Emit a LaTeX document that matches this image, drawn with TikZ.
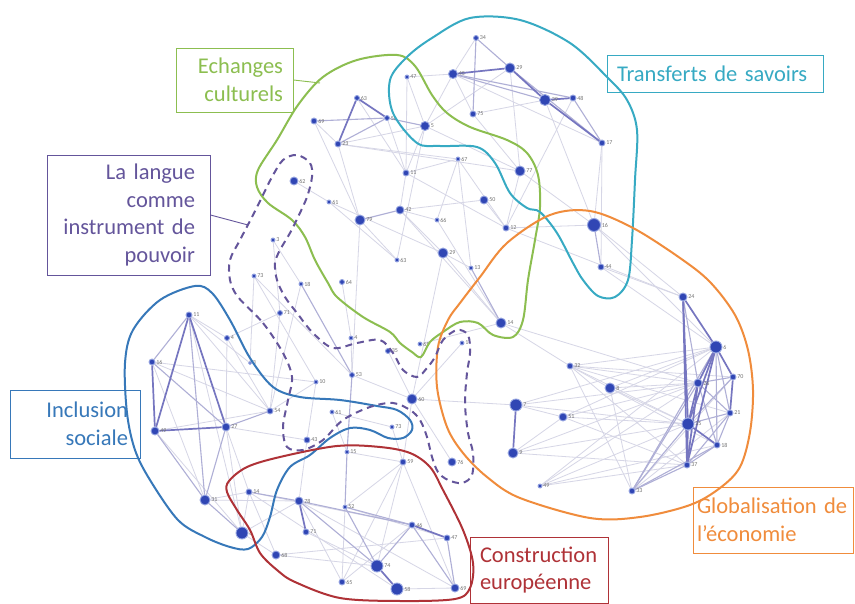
\documentclass[tikz,border=0pt]{standalone}
\usepackage{fontspec}
\setmainfont{Carlito}
\pgfdeclarelayer{back}
\pgfdeclarelayer{bg}
\pgfsetlayers{back,bg,main}
\definecolor{cgreen}{RGB}{140,190,80}
\definecolor{ccyan}{RGB}{55,170,195}
\definecolor{corange}{RGB}{240,140,60}
\definecolor{cblue}{RGB}{55,120,185}
\definecolor{cred}{RGB}{175,50,55}
\definecolor{cpurple}{RGB}{100,85,155}
\definecolor{cdot}{RGB}{48,70,180}
\definecolor{chalo}{RGB}{150,165,225}
\definecolor{eA}{RGB}{214,214,230}
\definecolor{eB}{RGB}{175,175,214}
\definecolor{eC}{RGB}{118,118,192}
\begin{document}
\begin{tikzpicture}[x=1pt,y=-1pt,
  dot/.style={circle,inner sep=0pt,fill=cdot,draw=chalo,line width=0.9pt},
  lbl/.style={anchor=west,inner sep=0.8pt,font=\fontsize{6}{6}\selectfont,text=black!55},
  ea/.style={draw=eA,line width=0.8pt},
  eb/.style={draw=eB,line width=1.1pt},
  ec/.style={draw=eC,line width=1.7pt},
  hull/.style={line width=2pt},
  lbox/.style={draw,line width=0.9pt,inner ysep=0pt,font=\fontsize{22.5}{27.5}\selectfont}]
\useasboundingbox (0,0) rectangle (855,604);
\begin{pgfonlayer}{back}
\fill[white] (0,0) rectangle (855,604);
\end{pgfonlayer}
% ---------- network nodes ----------
\foreach \n/\x/\y/\r/\l in {
 t34/476/38/2.5/34, t45/453/74/4.5/45, t29/510/68/5/29, t39/545/100/5.5/39,
 t48/573/98/3/48, t17/602/143/3/17, t75/473/114/3/75, g47/407/77/2/47,
 g5/425/126/4.5/5, g63/357/98/2.5/63, g56/387/118/2.5/56, g69/314/121/3/69,
 g23/338/144/3/23, g11/406/173/3/11, g67/458/159/2/67, g77/520/171/5/77,
 g50/484/200/4/50, g12/506/228/3/12, t16/594/225/6.5/16, t44/601/267/3/44,
 p62/294/181/4/62, g61/329/202/2/61, g79/360/220/5/79, g42/400/210/4/42,
 g66/437/220/2/66, g63b/397/260/2/63, g29/443/253/5/29, g13/471/268/2/13,
 p3/273/240/2/3, p73/254/276/2/73, p18/301/284/2/18, g64/342/282/2.5/64,
 p71/280/313/2.5/71, p4/351/338/2/4, p35/388/351/2.5/35, p65/420/344/2/65,
 p1/462/343/2/1, p53/352/375/2.5/53, p10/316/382/2/10, p60/412/399/5/60,
 b54/270/411/3/54, p61/332/412/2/61, p73b/392/427/2/73, p43/307/440/3/43,
 r15/347/452/2/15, g14/501/323/5/14,
 b11/189/315/3/11, b4/227/338/2.5/4, b16/152/362/3/16, b3/250/363/1.5/3,
 b49/155/431/4/49, b27/226/427/4/27, b31/205/500/5/31, b6/242/533/6/6,
 r14/249/492/3/14, r78/299/501/4/78, r71/306/532/3/71, r68/276/555/4/68,
 r59/403/462/3/59, p76/452/462/4/76, r52/345/507/2/52, r46/412/525/3/46,
 r47/447/538/3/47, r74/377/566/6/74, r65/342/582/3/65, r58/397/589/6/58,
 r69/455/588/4/69,
 o32/570/366/3/32, o8/610/388/5/8, o7/516/405/6/7, o51/563/417/4/51,
 o9/513/453/5/9, o49/540/486/2/49, o24/683/297/4/24, o6/716/347/6/6,
 o70/733/377/3/70, o26/698/383/4/26, o21/730/413/3/21, o35/688/424/6/35,
 o18/717/445/3/18, o37/687/465/3/37, o33/632/491/3/33}
 {\node[dot,minimum size={2*\r pt}] (\n) at (\x,\y) {};
  \node[lbl] (l\n) at (\n.east) {\l};}
% ---------- connectors ----------
\begin{pgfonlayer}{bg}
\foreach \a/\b in {
 t45/g5, g47/g11, g47/g5, t45/t75, g5/t29, t17/t16, t17/t44, t39/t16, t29/g77,
 t75/g77, t48/g12, t75/t39, t45/t17, t34/t45, g47/t45, g23/g5, g23/g67, g23/g77,
 g69/g23, g5/g11, g11/g67, g11/g42, g42/g29, g42/g66, g67/g66, g67/g12, g50/g12,
 g77/g12, g11/g12, g61/g29, g61/g63b, g42/g14, g29/g13, g5/g63b, g67/g13,
 p62/g61, g69/g79, g23/g79, g56/g11, g63/g11, g5/g77, g77/t16, g12/t16, g66/g14,
 p73/p53, p3/p18, p3/p71, p71/b54, p4/p53, p53/p60, p35/p60, p10/b54, p61/p73b,
 p43/b27, p1/p60, p65/g14, p60/o7, g29/p60, g79/p53, g64/p4, p18/b54, p73/p10,
 b11/b54, b49/b54, b16/b31, b27/b6, b49/b6, b11/b4, b4/b54, b16/p10, b11/b3,
 b3/p73, b4/p71, b31/r14, b6/r14, b11/b6, b4/b27, b16/b54, p43/r78,
 r14/r46, r59/r69, r59/r65, r52/r47, r58/r69, r68/r47, r71/r74, r14/r68, r52/r65,
 r59/r52, r78/r65, r14/r58, b6/r68, r15/r59, r68/r74, r65/r46, r78/r69, r59/r74,
 o33/o21, o33/o70, o32/o6, o32/o26, o32/o35, o32/o70, o32/o21, o8/o6, o8/o26,
 o8/o35, o8/o18, o51/o6, o51/o35, o51/o26, o7/o6, o7/o35, o9/o35, o9/o26,
 o49/o35, o49/o37, o49/o6, o49/o18, o32/o37, o32/o33, o8/o33, t16/o24, t44/o24,
 t16/o6, g14/o32, o51/o37, o9/o37, o7/o26, o49/o26, o32/o8, o7/o51, o9/o51,
 g12/o24, t44/o6, g14/o26, b27/r14, b31/r78, p61/r15, p43/p10, p60/r59,
 p60/p76, p73b/r59, g29/g14, g50/g42, g79/g63b, b6/r78}
 {\draw[ea] (\a) -- (\b);}
\foreach \a/\b in {
 t45/t39, t34/t29, t34/t75, t45/t48, t29/t17, t48/t17, t16/t44,
 g56/g23, g69/g56, g56/g5, g79/g42, g13/g14,
 p18/p53, p53/r15, r15/r52,
 b11/b16, b16/b27, b27/b54, b11/b31, b49/b31, b27/b31, b31/b6,
 r14/r78, r78/r46, r52/r46, r47/r69, r46/r69, r74/r46, r52/r74, r78/r74,
 o24/o26, o6/o21, o6/o18, o70/o26, o70/o35, o26/o21, o26/o18, o21/o35,
 o21/o18, o21/o37, o18/o37, o33/o35, o33/o37, o33/o26, o33/o6, o33/o18}
 {\draw[eb] (\a) -- (\b);}
\foreach \a/\b in {
 t45/t29, t29/t39, t39/t17, t39/t48, g63/g56, g63/g23,
 b11/b49, b11/b27, b16/b49, b49/b27,
 r78/r71, r46/r47, r74/r58, o7/o9,
 o24/o6, o24/o35, o24/o37, o6/o70, o6/o26, o6/o35, o6/o37, o70/o21,
 o26/o35, o26/o37, o35/o18, o35/o37}
 {\draw[ec] (\a) -- (\b);}
\end{pgfonlayer}
% ---------- cluster outlines ----------
\draw[hull,cgreen] plot[smooth cycle,tension=0.55] coordinates {
 (323,77) (357,60) (397,55) (415,66) (432,95) (447,113) (470,127) (507,140)
 (527,153) (538,175) (540,207) (535,240) (528,280) (523,320) (513,337)
 (493,335) (478,323) (460,322) (443,332) (430,342) (421,357) (412,352)
 (400,343) (390,332) (363,317) (337,297) (328,283) (315,260) (305,237)
 (292,220) (268,203) (257,187) (258,170) (277,140) (298,105)};
\draw[hull,ccyan] plot[smooth cycle,tension=0.55] coordinates {
 (432,38) (470,18) (520,20) (570,43) (607,77) (627,100) (637,130) (635,180)
 (632,240) (628,280) (615,297) (598,296) (583,280) (573,263) (557,233)
 (540,212) (527,208) (510,193) (495,163) (477,147) (440,146) (417,143)
 (393,113) (390,80) (407,57)};
\draw[hull,corange] plot[smooth cycle,tension=0.55] coordinates {
 (550,215) (590,211) (633,228) (680,258) (710,282) (735,315) (748,350)
 (753,390) (750,432) (740,467) (720,488) (690,505) (640,517) (590,518)
 (520,498) (487,477) (463,453) (447,427) (437,387) (438,347) (448,320)
 (460,303) (480,277) (507,243)};
\draw[hull,cblue] plot[smooth cycle,tension=0.55] coordinates {
 (195,286) (212,293) (230,320) (250,358) (273,387) (300,397) (340,400)
 (377,406) (397,410) (410,420) (412,430) (403,438) (388,438) (370,430)
 (350,428) (330,438) (310,455) (290,467) (277,490) (270,517) (262,537)
 (248,549) (230,547) (205,537) (178,520) (150,480) (135,450) (127,413)
 (125,363) (133,330) (160,300)};
\draw[hull,cred] plot[smooth cycle,tension=0.55] coordinates {
 (337,446) (380,447) (410,453) (430,467) (443,490) (463,530) (473,563)
 (470,588) (455,599) (400,601) (340,598) (295,582) (277,570) (260,553)
 (250,530) (237,510) (227,492) (229,481) (247,467) (280,457)};
\draw[hull,cpurple,dash pattern=on 7pt off 5pt] plot[smooth cycle,tension=0.55] coordinates {
 (238,297) (263,323) (283,353) (292,377) (288,400) (283,427) (287,447)
 (303,450) (323,440) (343,420) (370,407) (393,403) (410,410) (420,420)
 (427,437) (432,457) (438,472) (448,480) (462,483) (472,475) (473,453)
 (468,433) (465,403) (467,373) (470,353) (468,335) (457,330) (443,340)
 (435,357) (427,368) (417,377) (403,370) (393,353) (380,340) (357,343)
 (333,348) (313,333) (297,313) (285,297) (277,280) (275,263) (280,250)
 (290,233) (298,217) (307,197) (312,177) (310,163) (297,155) (283,160)
 (272,177) (262,197) (252,217) (240,240) (230,260) (230,280)};
% ---------- label boxes ----------
\node[lbox,cgreen,text=cgreen,minimum height=64pt,text width=97pt,inner xsep=10pt,align=right] (gbox) at (234.5,80) {Echanges\\culturels};
\node[lbox,cpurple,text=cpurple,minimum height=120pt,text width=133pt,inner xsep=15pt,align=right] (pbox) at (128.5,215) {La langue\\comme\\instrument de\\pouvoir};
\node[lbox,cblue,text=cblue,minimum height=68pt,text width=106pt,inner xsep=12pt,align=right] (bbox) at (75,424) {Inclusion\\sociale};
\node[lbox,ccyan,text=ccyan,minimum height=37pt,text width=196pt,inner xsep=10pt,align=left] (cbox) at (715,73.5) {Transferts de savoirs};
\node[lbox,corange,text=corange,minimum height=66pt,text width=152pt,inner xsep=4pt,align=left] (obox) at (773,520) {Globalisation de\\l'économie};
\node[lbox,cred,text=cred,minimum height=66pt,text width=118pt,inner xsep=10pt,align=left] (rbox) at (539,570) {Construction\\européenne};
\coordinate (gend) at (320,83);
\coordinate (pend) at (248,225);
\draw[cgreen,line width=0.9pt] (gbox.east) -- (gend);
\draw[cpurple,line width=0.9pt] (pbox.east) -- (pend);
\end{tikzpicture}
\end{document}
